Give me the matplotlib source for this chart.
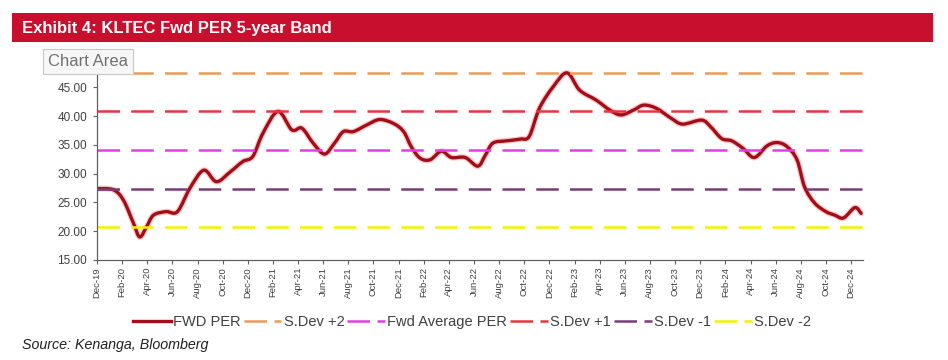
import matplotlib
matplotlib.use('Agg')
import matplotlib.pyplot as plt
from matplotlib.lines import Line2D
from matplotlib.patches import Rectangle, PathPatch
from matplotlib.path import Path

plt.rcParams['font.family'] = ['Liberation Sans', 'DejaVu Sans']

# 数据：月份偏移（以 Dec-19 为 0）和远期市盈率
months = [0, 1.3, 2.1, 2.9, 3.4, 3.95, 4.5, 5.5, 6.4, 7.4, 8.5, 9.5, 10.6, 11.6,
          12.4, 13.2, 14.4, 15.5, 16.3, 17.2, 18.1, 18.9, 19.6, 20.4, 21.5, 22.5,
          23.6, 24.4, 25.0, 25.7, 26.5, 27.4, 28.2, 29.3, 30.3, 30.9, 31.5, 32.6,
          33.7, 34.4, 35.2, 36.3, 37.4, 38.4, 39.7, 40.8, 41.7, 42.7, 43.5, 44.5,
          45.7, 46.6, 48.1, 48.8, 49.7, 50.5, 51.4, 52.3, 53.3, 54.1, 54.9, 55.7,
          56.3, 57.1, 58.0, 58.7, 59.4, 60.3, 60.8]
fwd_per = [27.4, 27.2, 25.4, 21.4, 19.0, 20.8, 22.8, 23.4, 23.4, 27.5, 30.6, 28.6,
           30.3, 32.1, 33.0, 37.0, 40.8, 37.6, 37.9, 35.3, 33.4, 35.3, 37.3, 37.3,
           38.5, 39.4, 38.7, 37.3, 34.7, 32.7, 32.4, 33.9, 32.8, 32.8, 31.3, 33.2,
           35.3, 35.7, 36.0, 36.5, 41.35, 45.1, 47.5, 44.5, 42.8, 41.05, 40.2, 41.05,
           41.9, 41.35, 39.6, 38.6, 39.3, 38.2, 36.1, 35.7, 34.4, 32.8, 34.8, 35.4,
           34.7, 32.4, 27.7, 24.9, 23.4, 22.8, 22.3, 24.1, 23.1]

# 均值与标准差带
band_names = ['S.Dev +2', 'Fwd Average PER', 'S.Dev +1', 'S.Dev -1', 'S.Dev -2']
band_values = [47.5, 34.1, 40.8, 27.4, 20.7]
band_colors = ['#EE9A55', '#E040E0', '#E8363E', '#7A3C78', '#F2F200']

tick_months = list(range(0, 61, 2))
tick_labels = ['Dec-19', 'Feb-20', 'Apr-20', 'Jun-20', 'Aug-20', 'Oct-20', 'Dec-20',
               'Feb-21', 'Apr-21', 'Jun-21', 'Aug-21', 'Oct-21', 'Dec-21',
               'Feb-22', 'Apr-22', 'Jun-22', 'Aug-22', 'Oct-22', 'Dec-22',
               'Feb-23', 'Apr-23', 'Jun-23', 'Aug-23', 'Oct-23', 'Dec-23',
               'Feb-24', 'Apr-24', 'Jun-24', 'Aug-24', 'Oct-24', 'Dec-24']
y_ticks = [15, 20, 25, 30, 35, 40, 45]


def smooth_path(xs, ys, t=1 / 6):
    """类似 Excel 平滑线：用三次贝塞尔曲线连接各点"""
    verts = [(xs[0], ys[0])]
    codes = [Path.MOVETO]
    n = len(xs)
    for i in range(n - 1):
        x0, y0 = (xs[i - 1], ys[i - 1]) if i > 0 else (xs[i], ys[i])
        x1, y1 = xs[i], ys[i]
        x2, y2 = xs[i + 1], ys[i + 1]
        x3, y3 = (xs[i + 2], ys[i + 2]) if i + 2 < n else (x2, y2)
        c1 = (x1 + (x2 - x0) * t, y1 + (y2 - y0) * t)
        c2 = (x2 - (x3 - x1) * t, y2 - (y3 - y1) * t)
        verts += [c1, c2, (x2, y2)]
        codes += [Path.CURVE4] * 3
    return Path(verts, codes)


fig = plt.figure(figsize=(9.48, 3.6), dpi=100, facecolor='white')

# 标题栏
fig.patches.append(Rectangle((12 / 948, 1 - 42 / 360), 921 / 948, 29 / 360,
                             transform=fig.transFigure, facecolor='#C8102E',
                             edgecolor='none'))
fig.text(22 / 948, 1 - 28 / 360, 'Exhibit 4: KLTEC Fwd PER 5-year Band',
         color='white', fontsize=12, fontweight='bold', va='center', ha='left')

ax = fig.add_axes([97 / 948, 1 - 260 / 360, 766 / 948, 190 / 360])

for name, val, col in zip(band_names, band_values, band_colors):
    ax.axhline(val, color=col, linewidth=1.8, dashes=(9, 4.5))

path = smooth_path(months, fwd_per)
ax.add_patch(PathPatch(path, facecolor='none', edgecolor='#FF6060', linewidth=4.2,
                       alpha=0.35, joinstyle='round', capstyle='round'))
ax.add_patch(PathPatch(path, facecolor='none', edgecolor='#A00E1A', linewidth=2.4,
                       joinstyle='round', capstyle='round'))

ax.set_xlim(0, 60.95)
ax.set_ylim(15, 48)
ax.set_yticks(y_ticks)
ax.set_yticklabels([f'{t:.2f}' for t in y_ticks], fontsize=8.5, color='#404040')
ax.set_xticks(tick_months)
ax.set_xticklabels(tick_labels, rotation=90, fontsize=6.8, color='#404040')
ax.tick_params(axis='both', length=3, width=0.8, color='#606060', pad=2)
ax.tick_params(axis='y', pad=4)
for side in ['top', 'right']:
    ax.spines[side].set_visible(False)
for side in ['left', 'bottom']:
    ax.spines[side].set_color('#606060')
    ax.spines[side].set_linewidth(0.9)

# 图例
handles = [Line2D([], [], color='#A00E1A', linewidth=2.4)]
for val, col in zip(band_values, band_colors):
    handles.append(Line2D([], [], color=col, linewidth=1.8, dashes=(9, 3)))
labels = ['FWD PER', 'S.Dev +2', 'Fwd Average PER', 'S.Dev +1', 'S.Dev -1', 'S.Dev -2']
fig.legend(handles, labels, loc='center', bbox_to_anchor=(472 / 948, 1 - 322 / 360),
           ncol=6, frameon=False, fontsize=10.5, handlelength=2.6, handletextpad=0.15,
           columnspacing=0.2, labelcolor='#404040')

# Chart Area 提示框
fig.text(48 / 948, 1 - 61 / 360, 'Chart Area', fontsize=12, color='#707070',
         va='center', ha='left',
         bbox=dict(boxstyle='square,pad=0.3', facecolor='#F7F7F7', edgecolor='#C8C8C8',
                   linewidth=0.8))

fig.text(22 / 948, 1 - 345 / 360, 'Source: Kenanga, Bloomberg', fontsize=10.3,
         style='italic', color='#202020', va='center', ha='left')

plt.savefig('out.png', dpi=100)
plt.close()
